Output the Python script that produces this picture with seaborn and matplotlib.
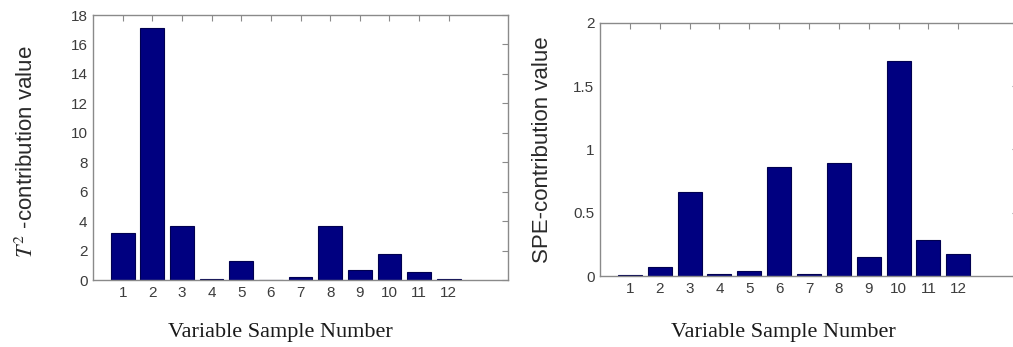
import matplotlib
matplotlib.use("Agg")
import matplotlib.pyplot as plt
import seaborn as sns
import pandas as pd

# Data
samples = [1, 2, 3, 4, 5, 6, 7, 8, 9, 10, 11, 12]
t2_values = [3.2, 17.1, 3.7, 0.1, 1.27, 0.03, 0.2, 3.7, 0.68, 1.77, 0.54, 0.1]
spe_values = [0.01, 0.073, 0.663, 0.015, 0.037, 0.86, 0.015, 0.89, 0.148, 1.70, 0.284, 0.174]
t2_yticks = [0, 2, 4, 6, 8, 10, 12, 14, 16, 18]
spe_yticks = [0, 0.5, 1, 1.5, 2]
spe_yticklabels = ["0", "0.5", "1", "1.5", "2"]
xlabel = "Variable Sample Number"
t2_ylabel = "$T^2$ -contribution value"
spe_ylabel = "SPE-contribution value"

sns.set_style("white")
plt.rcParams["font.family"] = ["Liberation Sans", "DejaVu Sans"]
plt.rcParams["mathtext.fontset"] = "stix"

spine_c = "#8a8a8a"
label_c = "#3c3c3c"
bar_c = "#000080"

fig = plt.figure(figsize=(10.13, 3.47), dpi=100)
W, H = 1013, 347
ax1 = fig.add_axes([93 / W, 1 - 280 / H, (508 - 93) / W, (280 - 15) / H])
ax2 = fig.add_axes([600 / W, 1 - 276 / H, 418 / W, (276 - 22.7) / H])

df1 = pd.DataFrame({"sample": samples, "value": t2_values})
df2 = pd.DataFrame({"sample": samples, "value": spe_values})

for ax, df, yt, ytl, ylim in [
    (ax1, df1, t2_yticks, [str(v) for v in t2_yticks], (0, 18)),
    (ax2, df2, spe_yticks, spe_yticklabels, (0, 2)),
]:
    sns.barplot(data=df, x="sample", y="value", native_scale=True, width=0.8,
                color=bar_c, saturation=1, edgecolor="#000050", linewidth=0.8,
                ax=ax, zorder=1)
    ax.set_xlim(0, 14)
    ax.set_ylim(*ylim)
    ax.set_xticks(samples)
    ax.set_xticklabels([str(s) for s in samples])
    ax.set_yticks(yt)
    ax.set_yticklabels(ytl)
    ax.tick_params(direction="in", length=4, width=0.8, color=spine_c,
                   labelsize=11, labelcolor=label_c, top=True, right=True, pad=4)
    for s in ax.spines.values():
        s.set_visible(True)
        s.set_color(spine_c)
        s.set_linewidth(1.0)
        s.set_zorder(3)
    ax.set_xlabel("")
    ax.set_ylabel("")
    ax.set_axisbelow(False)

fig.text(27 / W, 1 - 152 / H, t2_ylabel, rotation=90, ha="center", va="center",
         fontsize=16, color="#2a2a2a")
fig.text(543 / W, 1 - 150 / H, spe_ylabel, rotation=90, ha="center", va="center",
         fontsize=16, color="#2a2a2a")
fig.text(280 / W, 1 - 333 / H, xlabel, ha="center", va="center", fontsize=16,
         family=["Liberation Serif", "DejaVu Serif"], color="#1a1a1a")
fig.text(783 / W, 1 - 333 / H, xlabel, ha="center", va="center", fontsize=16,
         family=["Liberation Serif", "DejaVu Serif"], color="#1a1a1a")

fig.savefig("out.png", dpi=100)
